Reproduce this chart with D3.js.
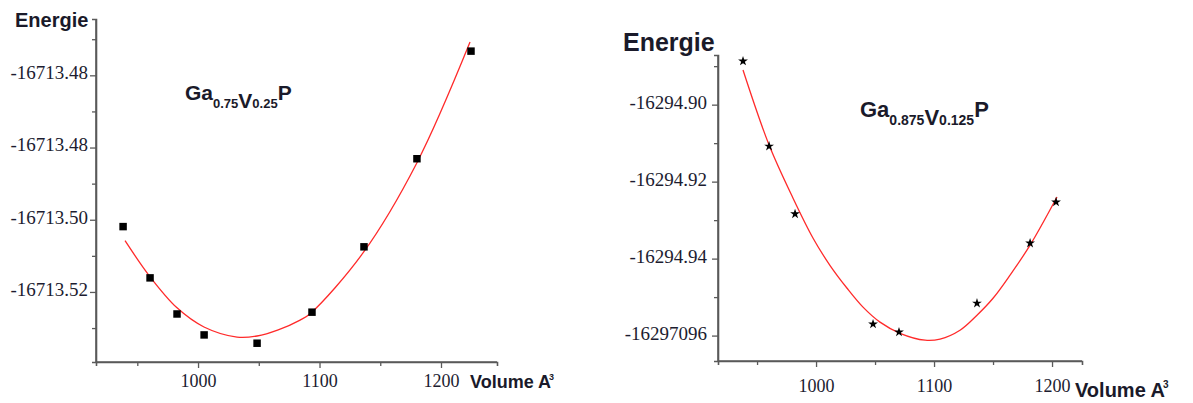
<!DOCTYPE html>
<html>
<head>
<meta charset="utf-8">
<script src="https://cdn.jsdelivr.net/npm/d3@7"></script>
<style>
  body { margin: 0; background: #fff; }
  svg { display: block; }
  .lbl { font-family: "Liberation Sans", Arial, sans-serif; font-weight: bold; fill: #1a1a2a; }
</style>
</head>
<body>
<svg width="1193" height="403"></svg>
<script>
// ---- left panel: Ga0.75V0.25P ----
var volA = [938.3, 960.5, 982.7, 1005, 1048.6, 1093.8, 1136.6, 1180.2, 1224.7]
var enA = [-16713.5019, -16713.5161, -16713.5261, -16713.5319, -16713.5342, -16713.5256, -16713.5075, -16713.4831, -16713.4533]
var fitVolA = [939.9, 960.5, 982.7, 1004.9, 1032.1, 1048.6, 1066, 1084.0, 1093.0, 1135.8, 1180.2, 1223.9]
var fitEnA = [-16713.5058, -16713.5158, -16713.5244, -16713.5297, -16713.5325, -16713.5322, -16713.5305, -16713.5278, -16713.5258, -16713.5092, -16713.4842, -16713.4508]
var yTicksA = [-16713.52, -16713.50, -16713.48, -16713.46]
var yLabelsA = ["-16713.52", "-16713.50", "-16713.48", "-16713.48"]
var yMinorA = [-16713.53, -16713.51, -16713.49, -16713.47, -16713.45]
var xTicks = [1000, 1100, 1200]
var xMinor = [950, 1050, 1150]

// ---- right panel: Ga0.875V0.125P ----
var volB = [938.1, 960.2, 982.2, 1048.3, 1070.3, 1136.4, 1181.4, 1203.4]
var enB = [-16294.8887, -16294.9108, -16294.9284, -16294.9570, -16294.9591, -16294.9516, -16294.9360, -16294.9253]
var fitVolB = [938.1, 960.2, 980.5, 997.5, 1011.9, 1026.3, 1039.8, 1054.2, 1071.2, 1092.4, 1105.1, 1122.0, 1136.4, 1150.0, 1164.4, 1181.4, 1204.2]
var fitEnB = [-16294.8910, -16294.9105, -16294.9243, -16294.9347, -16294.9418, -16294.9477, -16294.9526, -16294.9565, -16294.9594, -16294.9612, -16294.9609, -16294.9586, -16294.9547, -16294.9503, -16294.9443, -16294.9365, -16294.9240]
var yTicksB = [-16294.96, -16294.94, -16294.92, -16294.90]
var yLabelsB = ["-16297096", "-16294.94", "-16294.92", "-16294.90"]
var yMinorB = [-16294.95, -16294.93, -16294.91, -16294.89]

var svg = d3.select("svg")
var serif = "'Liberation Serif', 'Times New Roman', serif"

function panel(o) {
  var x = d3.scaleLinear().domain(o.xDom).range([o.left, o.right])
  var y = d3.scaleLinear().domain(o.yDom).range([o.bottom, o.top])

  // minor ticks
  svg.append("g").attr("transform", "translate(" + o.left + ",0)")
    .call(d3.axisLeft(y).tickValues(o.yMinor).tickSize(4).tickFormat(""))
  svg.append("g").attr("transform", "translate(0," + o.bottom + ")")
    .call(d3.axisBottom(x).tickValues(xMinor).tickSize(4).tickFormat(""))

  var ya = svg.append("g").attr("transform", "translate(" + o.left + ",0)")
    .call(d3.axisLeft(y).tickValues(o.yTicks).tickSize(6).tickPadding(o.yPad)
      .tickFormat(function(d, i) { return o.yLabels[i] }))
  var xa = svg.append("g").attr("transform", "translate(0," + o.bottom + ")")
    .call(d3.axisBottom(x).tickValues(xTicks).tickSize(6).tickPadding(o.xPad).tickFormat(d3.format("d")))

  ya.selectAll(".tick text").attr("dy", "0.18em")
    .style("font-family", serif).style("font-size", "19px").attr("fill", "#1c1c30")
  xa.selectAll(".tick text")
    .style("font-family", serif).style("font-size", "18px").attr("fill", "#1c1c30")
  svg.selectAll(".domain").attr("stroke", "#5a5a5a").attr("stroke-width", 1.6)
  svg.selectAll(".tick line").attr("stroke", "#5a5a5a").attr("stroke-width", 1.3)
  // no outer tick at end of axes
  ya.select(".domain").attr("d", "M0," + o.bottom + "V" + o.top)
  xa.select(".domain").attr("d", "M" + o.left + ",0H" + o.right)

  var line = d3.line()
    .x(function(d) { return x(d[0]) })
    .y(function(d) { return y(d[1]) })
    .curve(d3.curveCatmullRom)
  svg.append("path")
    .datum(d3.zip(o.fitV, o.fitE))
    .attr("fill", "none").attr("stroke", "#ff2a2a").attr("stroke-width", 1.3)
    .attr("d", line)

  svg.selectAll(null).data(d3.zip(o.vol, o.en)).enter().append("path")
    .attr("transform", function(d) { return "translate(" + x(d[0]) + "," + y(d[1]) + ")" })
    .attr("d", d3.symbol().type(o.sym).size(o.symSize))
    .attr("fill", "#000")

  svg.append("text").attr("class", "lbl").attr("x", o.eX).attr("y", o.eY)
    .style("font-size", o.eSize + "px").text("Energie")

  var t = svg.append("text").attr("class", "lbl").attr("x", o.tX).attr("y", o.tY)
    .style("font-size", o.tSize + "px")
  t.append("tspan").text("Ga")
  t.append("tspan").attr("dy", 8).style("font-size", o.sSize + "px").text(o.sub1)
  t.append("tspan").attr("dy", 0).style("font-size", o.tSize + "px").text("V")
  t.append("tspan").attr("dy", 0).style("font-size", o.sSize + "px").text(o.sub2)
  t.append("tspan").attr("dy", -8).style("font-size", o.tSize + "px").text("P")

  var v = svg.append("text").attr("class", "lbl").attr("x", o.vX).attr("y", o.vY)
    .style("font-size", o.vSize + "px")
  v.append("tspan").text("Volume A")
  v.append("tspan").attr("dy", -o.vSize * 0.45).attr("dx", -2)
    .style("font-size", (o.vSize * 0.5) + "px").text("3")
}

panel({
  left: 96, right: 497, top: 19, bottom: 362,
  xDom: [916.0, 1246.1], yDom: [-16713.5394, -16713.4444],
  yTicks: yTicksA, yLabels: yLabelsA, yMinor: yMinorA, yPad: 2, xPad: 6,
  vol: volA, en: enA, fitV: fitVolA, fitE: fitEnA,
  sym: d3.symbolSquare, symSize: 56,
  eX: 15, eY: 27, eSize: 20,
  tX: 185, tY: 100, tSize: 21, sSize: 13, sub1: "0.75", sub2: "0.25",
  vX: 470, vY: 388, vSize: 18
})

panel({
  left: 718, right: 1082, top: 55, bottom: 361,
  xDom: [916.9, 1225.4], yDom: [-16294.9666, -16294.8871],
  yTicks: yTicksB, yLabels: yLabelsB, yMinor: yMinorB, yPad: 5, xPad: 12,
  vol: volB, en: enB, fitV: fitVolB, fitE: fitEnB,
  sym: d3.symbolStar, symSize: 30,
  eX: 623, eY: 51, eSize: 25,
  tX: 860, tY: 117, tSize: 22, sSize: 14, sub1: "0.875", sub2: "0.125",
  vX: 1075, vY: 397, vSize: 20
})
</script>
</body>
</html>
